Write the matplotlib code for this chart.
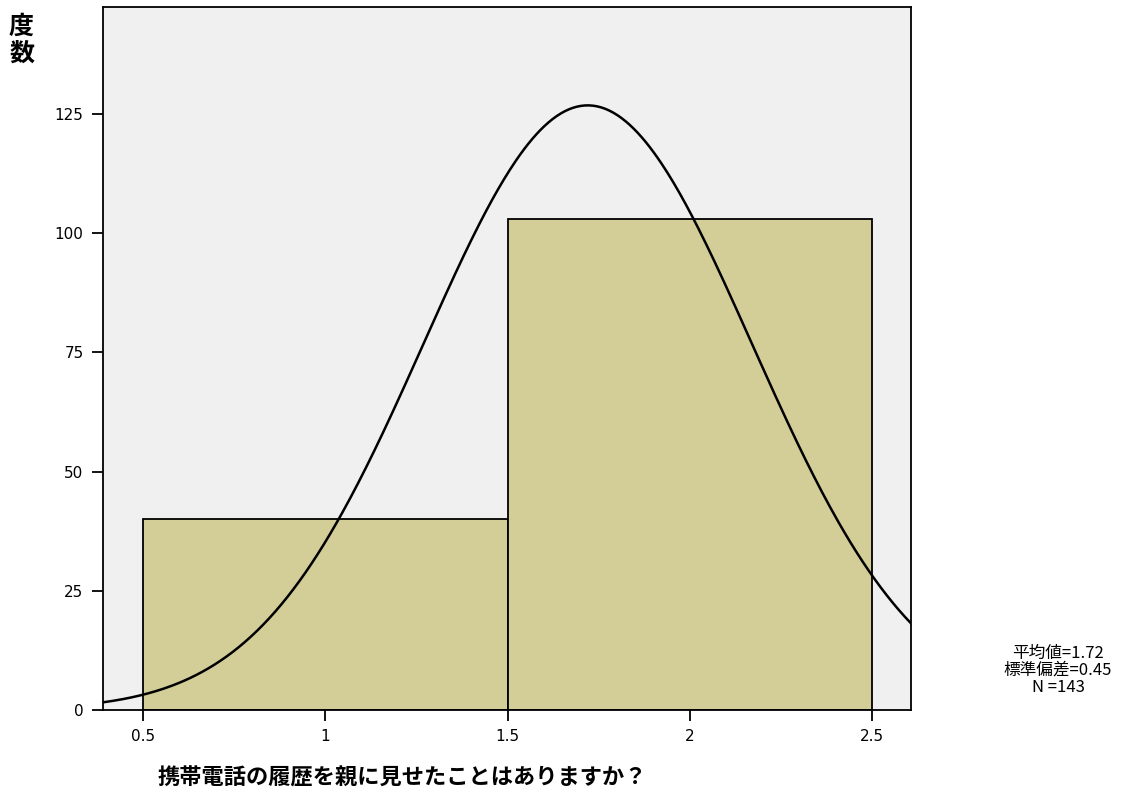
import math

import matplotlib

matplotlib.use("Agg")
import matplotlib.pyplot as plt  # noqa: E402
import numpy as np  # noqa: E402

plt.rcParams["font.family"] = ["Noto Sans CJK JP", "DejaVu Sans"]

# histogram data
bin_edges = [0.5, 1.5, 2.5]
counts = [40, 103]
mean_val = 1.72
sd_val = 0.45
n_total = 143
y_ticks = [0, 25, 50, 75, 100, 125]
x_ticks = [0.5, 1, 1.5, 2, 2.5]
x_tick_labels = ["0.5", "1", "1.5", "2", "2.5"]
x_title = "携帯電話の履歴を親に見せたことはありますか？"
y_title = "度\n数"
stats_text = "平均値=1.72\n標準偏差=0.45\nN =143"

fig = plt.figure(figsize=(11.23, 8.01), dpi=100)
ax = fig.add_axes([103 / 1123, 91 / 801, 808 / 1123, 703 / 801])
ax.set_facecolor("#F0F0F0")

widths = np.diff(bin_edges)
ax.bar(bin_edges[:-1], counts, width=widths, align="edge",
       color="#D3CE98", edgecolor="black", linewidth=1.3, zorder=2)

# normal curve fitted from mean/sd shown in the legend
xlim = (0.39, 2.607)
xs = np.linspace(xlim[0], xlim[1], 400)
bw = widths[0]
ys = n_total * bw / (sd_val * math.sqrt(2 * math.pi)) * np.exp(-0.5 * ((xs - mean_val) / sd_val) ** 2)
ax.plot(xs, ys, color="black", linewidth=1.8, zorder=3)

ax.set_xlim(*xlim)
ax.set_ylim(0, 147.4)
ax.set_xticks(x_ticks)
ax.set_xticklabels(x_tick_labels)
ax.set_yticks(y_ticks)
ax.tick_params(direction="out", length=8, width=1.3, labelsize=11, pad=6)
for lbl in ax.get_xticklabels() + ax.get_yticklabels():
    lbl.set_family("DejaVu Sans")
for s in ax.spines.values():
    s.set_linewidth(1.3)

fig.text(9 / 1123, 1 - 15 / 801, y_title, ha="left", va="top",
         fontsize=18, fontweight="bold", linespacing=1.15)
fig.text(158 / 1123, 1 - 778 / 801, x_title, ha="left", va="center",
         fontsize=16, fontweight="bold")
fig.text(1058 / 1123, 1 - 670 / 801, stats_text, ha="center", va="center",
         multialignment="center", fontsize=12, linespacing=1.0)

fig.savefig("out.png", dpi=100)
